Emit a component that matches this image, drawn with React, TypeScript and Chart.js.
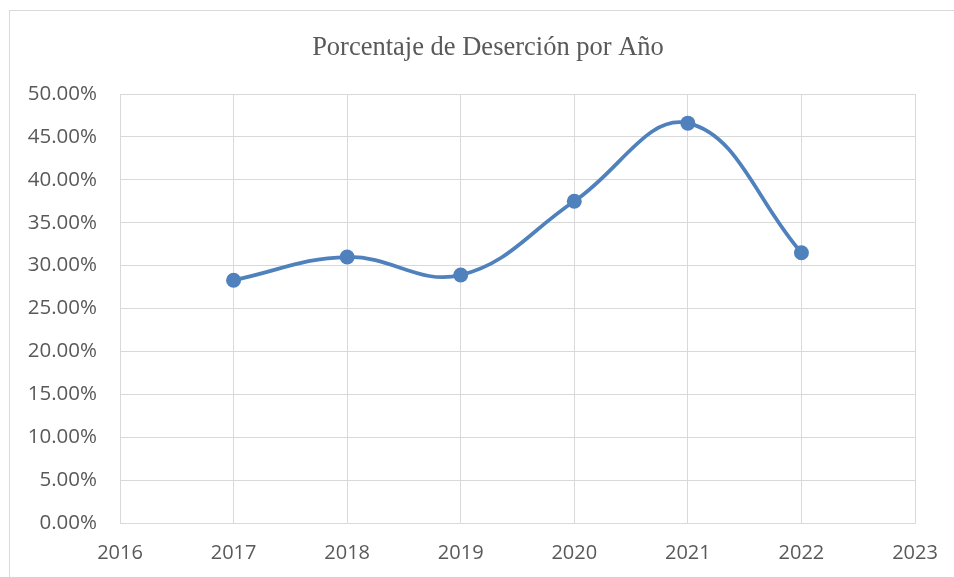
import React, { useEffect, useRef } from "react";
import { Chart, registerables } from "chart.js";

Chart.register(...registerables);

const TITLE = "Porcentaje de Deserción por Año";
const YEARS = [2017, 2018, 2019, 2020, 2021, 2022];
const DESERCION = [28.3, 31.0, 28.9, 37.5, 46.6, 31.5];
const X_MIN = 2016;
const X_MAX = 2023;
const Y_MIN = 0;
const Y_MAX = 50;
const Y_STEP = 5;

const LINE_COLOR = "#4f81bd";
const GRID_COLOR = "#d9d9d9";
const TEXT_COLOR = "#595959";

const titlePlugin = {
  id: "excelTitle",
  afterDraw(chart: any) {
    const ctx = chart.ctx;
    ctx.save();
    ctx.font = "26.5px 'Liberation Serif', 'Times New Roman', serif";
    ctx.fillStyle = TEXT_COLOR;
    ctx.textAlign = "center";
    ctx.textBaseline = "alphabetic";
    ctx.fillText(TITLE, chart.width / 2, 44);
    ctx.restore();
  },
};

export default function App() {
  const ref = useRef<HTMLCanvasElement>(null);

  useEffect(() => {
    if (!ref.current) return;
    const chart = new Chart(ref.current, {
      type: "line",
      data: {
        datasets: [
          {
            label: TITLE,
            data: YEARS.map((y, i) => ({ x: y, y: DESERCION[i] })),
            borderColor: LINE_COLOR,
            backgroundColor: LINE_COLOR,
            borderWidth: 3.75,
            pointRadius: 7.5,
            pointBorderWidth: 0,
            pointBackgroundColor: LINE_COLOR,
            tension: 0.4,
            fill: false,
            clip: false as any,
          },
        ],
      },
      options: {
        responsive: false,
        animation: false,
        layout: { padding: { top: 83, right: 51, bottom: 0, left: 0 } },
        plugins: {
          legend: { display: false },
          title: { display: false },
          tooltip: { enabled: false },
        },
        scales: {
          x: {
            type: "linear",
            min: X_MIN,
            max: X_MAX,
            border: { display: true, color: GRID_COLOR, width: 1 },
            grid: { color: GRID_COLOR, lineWidth: 1, drawTicks: false },
            ticks: {
              stepSize: 1,
              padding: 18,
              color: TEXT_COLOR,
              font: { family: "'Open Sans', sans-serif", size: 20 },
              callback: (v: any) => String(v),
            },
            afterFit: (scale: any) => {
              scale.height = 86;
            },
          },
          y: {
            min: Y_MIN,
            max: Y_MAX,
            border: { display: true, color: GRID_COLOR, width: 1 },
            grid: { color: GRID_COLOR, lineWidth: 1, drawTicks: false },
            ticks: {
              stepSize: Y_STEP,
              padding: 23,
              color: TEXT_COLOR,
              font: { family: "'Open Sans', sans-serif", size: 20.5 },
              callback: (v: any) => Number(v).toFixed(2) + "%",
            },
            afterFit: (scale: any) => {
              scale.width = 110;
            },
          },
        },
      },
      plugins: [titlePlugin],
    });
    return () => chart.destroy();
  }, []);

  return (
    <div
      style={{
        position: "fixed",
        left: 0,
        top: 0,
        width: 954,
        height: 577,
        overflow: "hidden",
        background: "#fff",
      }}
    >
      <div
        style={{
          position: "absolute",
          left: 9,
          top: 10,
          width: 958,
          height: 600,
          border: `1px solid ${GRID_COLOR}`,
          boxSizing: "border-box",
          background: "#fff",
        }}
      >
        <canvas ref={ref} width={956} height={598} style={{ display: "block" }} />
      </div>
    </div>
  );
}
